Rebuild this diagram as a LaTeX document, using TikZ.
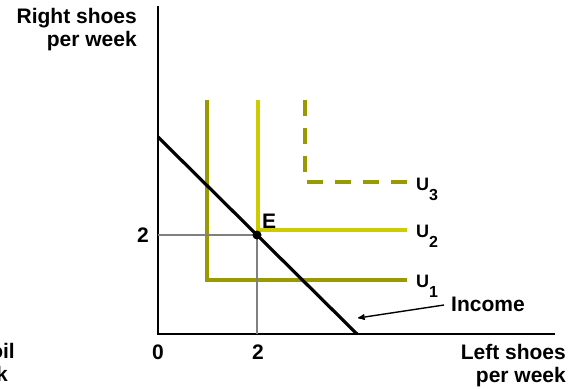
\documentclass[tikz,border=0pt]{standalone}
\usepackage{fontspec}
\setmainfont{Liberation Sans}
\usepackage{xcolor}
\definecolor{indiffdark}{HTML}{999900}
\definecolor{indifflight}{HTML}{CCCC00}
\definecolor{guidegray}{HTML}{808080}
\usetikzlibrary{arrows, positioning, calc}

\begin{document}
\begin{tikzpicture}[x=1pt, y=-1pt,
    axis/.style={line width=2.4pt},
    budget/.style={line width=3.2pt},
    guide/.style={draw=guidegray, line width=1.8pt},
    curve/.style={line width=3.2pt},
    txt/.style={font=\bfseries\fontsize{21}{23}\selectfont, inner sep=0pt, align=right},
    ulabel/.style={font=\bfseries\fontsize{18}{20}\selectfont, inner sep=0pt, anchor=base west},
    arrow/.style={->, line width=1.4pt, >=stealth'}
]
    \useasboundingbox (0,0) rectangle (569,388);
    \clip (0,0) rectangle (569,388);

    % Axes
    \coordinate (O) at (158,334);
    \coordinate (ytop) at (158,6);
    \coordinate (xend) at (555,334);
    \draw[axis] (ytop) -- (O) -- (xend);

    % Indifference curves
    \draw[curve, indiffdark] (207,100) -- (207,280) -- (407,280);
    \draw[curve, indifflight] (258,100) -- (258,230) -- (407,230);
    \draw[curve, indiffdark, dash pattern=on 16pt off 12pt] (305,100) -- (305,182) -- (407,182);

    % Budget line and equilibrium
    \coordinate (b1) at (158,137);
    \coordinate (b2) at (357,334);
    \path (b1) -- (b2) coordinate[pos=0.4975] (E);
    \draw[guide] (O |- E) -- (E) -- (E |- O);
    \draw[budget] (b1) -- (b2);
    \fill (E) circle (4.5pt);
    \node[txt, anchor=south west] (elabel) at ($(E)+(5,-6)$) {E};

    % Ticks
    \node[txt, anchor=east] (ytick) at ($(O |- E)+(-9,0)$) {2};
    \node[txt, anchor=north] (zero) at ($(O)+(0,11)$) {0};
    \node[txt, anchor=north] (xtick) at ($(E |- O)+(1,11)$) {2};

    % Curve labels
    \node[ulabel] (u3) at (416,190) {U\raisebox{-10pt}{\fontsize{16}{16}\selectfont 3}};
    \node[ulabel] (u2) at (416,237) {U\raisebox{-10pt}{\fontsize{16}{16}\selectfont 2}};
    \node[ulabel] (u1) at (416,287) {U\raisebox{-10pt}{\fontsize{16}{16}\selectfont 1}};

    % Income arrow
    \node[txt, anchor=west] (income) at (451,304) {Income};
    \coordinate (itip) at (358,318);
    \draw[arrow] ($(income.west)+(-7,1)$) -- (itip);

    % Axis titles
    \node[txt, anchor=north east] (ytitle) at (137,8) {Right shoes\\per week};
    \node[txt, anchor=north east] (xtitle) at (566,344) {Left shoes\\per week};
    \node[txt, anchor=base east] (cut1) at (15,358) {oil};
    \node[txt, anchor=base east] (cut2) at (8,381) {k};
\end{tikzpicture}
\end{document}
